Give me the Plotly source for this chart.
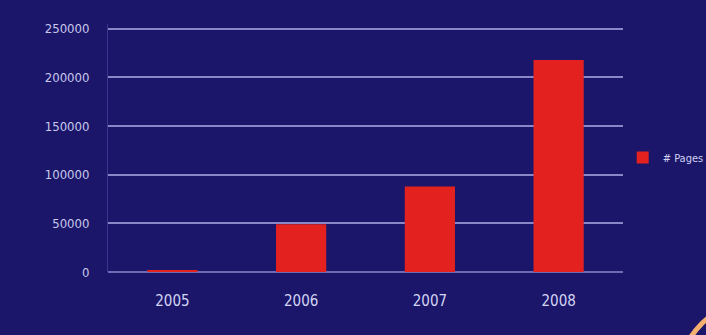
import plotly.graph_objects as go

years = ["2005", "2006", "2007", "2008"]
pages = [1200, 49000, 88000, 218000]
y_ticks = [0, 50000, 100000, 150000, 200000, 250000]

bg = "#1b166a"
fig = go.Figure()
fig.add_trace(go.Bar(x=years, y=pages, name="# Pages", marker=dict(color="#e3221f", line=dict(width=0))))

fig.update_layout(
    width=706, height=335,
    paper_bgcolor=bg, plot_bgcolor=bg,
    margin=dict(l=108, r=83, t=24, b=63, autoexpand=False),
    bargap=0.61,
    showlegend=True,
    legend=dict(xref="container", yref="container", x=0.882, y=0.53, xanchor="left", yanchor="middle",
                font=dict(family="DejaVu Sans Condensed", size=11, color="#d0d0f0"),
                bgcolor="rgba(0,0,0,0)", itemwidth=30),
    xaxis=dict(range=[-0.5, 3.5], showgrid=False, zeroline=False, showline=False,
               tickfont=dict(family="DejaVu Sans Condensed", size=15, color="#d4d4f4"),
               ticks="", ticklabelstandoff=18),
    yaxis=dict(range=[0, 255000], tickvals=y_ticks, ticktext=[str(v) for v in y_ticks],
               showgrid=True, gridcolor="#8a86c8", gridwidth=1.5,
               zeroline=True, zerolinecolor="#6f6bb5", zerolinewidth=1.5,
               showline=True, linecolor="#3a3590", linewidth=1,
               tickfont=dict(family="DejaVu Sans Condensed", size=13, color="#c8c8ec"),
               ticks="", ticklabelstandoff=15),
)
fig.add_shape(type="circle", xref="paper", yref="paper",
              x0=1.106, x1=1.416, y0=-0.774, y1=-0.115,
              line=dict(color="#f5b070", width=5), fillcolor="rgba(0,0,0,0)", layer="below")
fig.write_html("out.html", config={"displayModeBar": False},
               post_script="document.body.style.margin='0';document.body.style.background='%s';" % bg)
